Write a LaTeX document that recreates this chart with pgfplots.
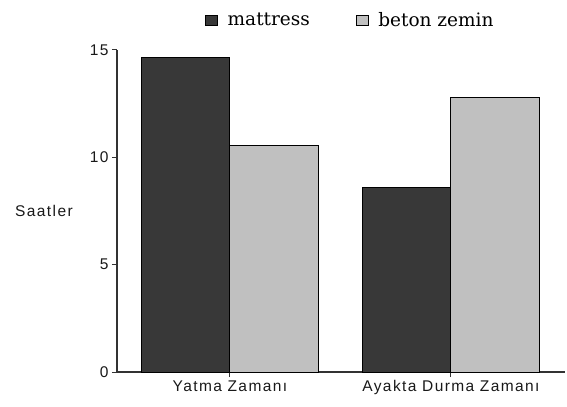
\documentclass[border=0pt]{standalone}
\usepackage{fontspec}
\setmainfont{Liberation Sans}
\newfontfamily\tickfont[LetterSpace=9]{Liberation Sans}
\newfontfamily\legfont{DejaVu Serif}
\usepackage{pgfplots}
\pgfplotsset{compat=1.18}
\definecolor{darkbar}{HTML}{383838}
\definecolor{lightbar}{HTML}{C0C0C0}
\begin{document}
\begin{tikzpicture}
\path[use as bounding box] (-117bp,-35bp) rectangle (450bp,372bp);
\begin{axis}[
  at={(0,0)}, anchor=south west,
  scale only axis, width=448bp, height=322bp,
  ybar, bar width=0.4,
  xmin=-0.511, xmax=1.516, ymin=0, ymax=15,
  axis lines*=left,
  axis line style={line width=1.2pt, color=black!80},
  xtick={0,1}, xticklabels={Yatma Zamanı, Ayakta Durma Zamanı},
  ytick={0,5,10,15},
  tick align=outside, major tick length=5bp,
  tick style={line width=1pt, color=black!80},
  /pgf/number format/assume math mode=true,
  tick label style={font=\tickfont\fontsize{15.5bp}{17bp}\selectfont, text=black!90},
  ylabel={Saatler},
  every axis y label/.style={at={(axis description cs:-0.163,0.5)}, anchor=center, font=\tickfont\fontsize{15.5bp}{17bp}\selectfont, text=black!90},
  legend style={at={(axis description cs:0.19,1.093)}, anchor=west, draw=none, fill=none,
    font=\legfont\fontsize{18.5bp}{20bp}\selectfont, text=black},
  legend columns=2,
  /tikz/every even column/.append style={column sep=44bp},
  legend image code/.code={\draw[#1, line width=0.8pt] (0bp,-5bp) rectangle (12bp,5bp); \path[draw=none, fill=none] (12bp,0) -- (20bp,0);},
]
\addplot[fill=darkbar, draw=black, line width=1pt, bar shift=-0.2] coordinates {(0,14.67) (1,8.6)};
\addplot[fill=lightbar, draw=black, line width=1pt, bar shift=0.2] coordinates {(0,10.53) (1,12.8)};
\legend{mattress, beton zemin}
\end{axis}
\end{tikzpicture}
\end{document}
